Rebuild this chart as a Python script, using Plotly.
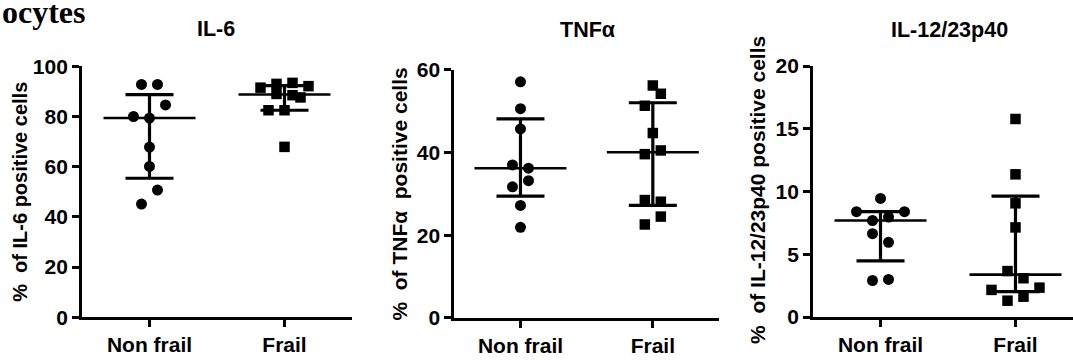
import numpy as np
import plotly.graph_objects as go

W, H = 1073, 362

groups = ["Non frail", "Frail"]

# % positive cells per donor
il6_nonfrail = [92.8, 92.8, 84.6, 80.0, 79.4, 67.8, 60.1, 50.7, 45.1]
il6_frail = [91.5, 93.0, 93.4, 92.1, 89.0, 88.5, 87.6, 82.5, 82.5, 67.9]
tnf_nonfrail = [57.1, 50.6, 45.7, 37.0, 36.2, 33.2, 31.7, 27.2, 21.9]
tnf_frail = [56.2, 54.2, 51.3, 44.7, 40.5, 39.6, 28.5, 28.1, 24.5, 22.6]
il12_nonfrail = [9.45, 8.39, 8.39, 7.96, 7.69, 6.64, 5.95, 2.99, 2.91]
il12_frail = [15.78, 11.37, 9.06, 7.14, 3.66, 3.09, 2.34, 2.16, 1.62, 1.30]

# horizontal dodge slots so that overlapping points sit side by side
il6_nonfrail_slots = [-1, 1, 2, -2, 0, 0, 0, 1, -1]
il6_frail_slots = [-3, -1, 1, 3, -1, 1, 2, -2, 0, 0]
tnf_nonfrail_slots = [0, 0, 0, -1, 1, 1, -1, 0, 0]
tnf_frail_slots = [0, 1, -1, 0, 1, -1, -1, 1, 1, -1]
il12_nonfrail_slots = [0, -3, 3, 1, -1, -1, 1, 1, -1]
il12_frail_slots = [0, 0, 0, 0, -1, 1, 3, -3, 1, -1]

FONT = "Liberation Sans"
SERIF = "Liberation Serif"
BLACK = "#000000"

SLOT_PX = 8          # dodge step in pixels
MEDIAN_HALF_PX = 46  # half length of the median bar
CAP_HALF_PX = 24     # half length of the quartile caps

panels = [
    dict(title="IL-6", ytitle="%  of IL-6 positive cells",
         data=(il6_nonfrail, il6_frail), slots=(il6_nonfrail_slots, il6_frail_slots),
         yrange=[0, 100], dtick=20, xpx=(82, 352), ypx=(58, 326), xrange=[-0.5, 1.5],
         title_xy=(216, 18), ytitle_xy=(20, 192), ytitle_size=20),
    dict(title="TNFα", ytitle="%  of TNFα  positive cells",
         data=(tnf_nonfrail, tnf_frail), slots=(tnf_nonfrail_slots, tnf_frail_slots),
         yrange=[0, 60], dtick=20, xpx=(454.3, 719), ypx=(61.7, 326.7), xrange=[-0.5, 1.5],
         title_xy=(587, 19), ytitle_xy=(400, 195), ytitle_size=21),
    dict(title="IL-12/23p40", ytitle="%  of IL-12/23p40 positive cells",
         data=(il12_nonfrail, il12_frail), slots=(il12_nonfrail_slots, il12_frail_slots),
         yrange=[0, 20], dtick=5, xpx=(813, 1073), ypx=(57.7, 325.7), xrange=[-0.5, 1.426],
         title_xy=(949, 19), ytitle_xy=(758, 190), ytitle_size=21),
]

symbols = ["circle", "square"]
msizes = [11, 10.5]

fig = go.Figure()
layout = dict(
    width=W, height=H, margin=dict(l=0, r=0, t=0, b=0),
    paper_bgcolor="white", plot_bgcolor="white", showlegend=False,
    annotations=[],
)

for i, p in enumerate(panels):
    sfx = "" if i == 0 else str(i + 1)
    xa, ya = "x" + sfx, "y" + sfx
    px_per_unit = (p["xpx"][1] - p["xpx"][0]) / (p["xrange"][1] - p["xrange"][0])
    step = SLOT_PX / px_per_unit

    for g, (vals, slots) in enumerate(zip(p["data"], p["slots"])):
        vals = np.asarray(vals, dtype=float)
        q1, med, q3 = np.percentile(vals, [25, 50, 75], method="weibull")
        xs = g + np.asarray(slots) * step
        fig.add_trace(go.Scatter(
            x=xs, y=vals, xaxis=xa, yaxis=ya, mode="markers",
            marker=dict(symbol=symbols[g], size=msizes[g], color=BLACK, line=dict(width=0)),
            hoverinfo="y", cliponaxis=False))
        # median bar with interquartile range
        fig.add_trace(go.Scatter(
            x=[g], y=[med], xaxis=xa, yaxis=ya, mode="markers",
            marker=dict(size=0.1, color=BLACK, opacity=0),
            error_y=dict(type="data", symmetric=False, array=[q3 - med], arrayminus=[med - q1],
                         color=BLACK, thickness=3.2, width=CAP_HALF_PX),
            error_x=dict(type="constant", value=MEDIAN_HALF_PX / px_per_unit,
                         color=BLACK, thickness=2.6, width=0),
            hoverinfo="skip", cliponaxis=False))

    layout["xaxis" + sfx] = dict(
        domain=[p["xpx"][0] / W, p["xpx"][1] / W], range=p["xrange"], anchor=ya,
        tickmode="array", tickvals=[0, 1], ticktext=groups,
        ticks="outside", ticklen=7, tickwidth=2.5, tickcolor=BLACK,
        showline=True, linecolor=BLACK, linewidth=2.8, showgrid=False, zeroline=False,
        tickfont=dict(family=FONT, size=21, color=BLACK, weight="bold"), fixedrange=True)
    layout["yaxis" + sfx] = dict(
        domain=[1 - p["ypx"][1] / H, 1 - p["ypx"][0] / H], range=p["yrange"], anchor=xa,
        tickmode="linear", tick0=0, dtick=p["dtick"],
        ticks="outside", ticklen=7, tickwidth=2.5, tickcolor=BLACK,
        showline=True, linecolor=BLACK, linewidth=2.8, showgrid=False, zeroline=False,
        tickfont=dict(family=FONT, size=21, color=BLACK, weight="bold"), fixedrange=True)

    tx, ty = p["title_xy"]
    layout["annotations"].append(dict(
        text=p["title"], x=tx / W, y=1 - ty / H, xref="paper", yref="paper",
        xanchor="center", yanchor="middle", showarrow=False,
        font=dict(family=FONT, size=21.5, color=BLACK, weight="bold")))
    ax, ay = p["ytitle_xy"]
    layout["annotations"].append(dict(
        text=p["ytitle"], x=ax / W, y=1 - ay / H, xref="paper", yref="paper",
        xanchor="center", yanchor="middle", textangle=-90, showarrow=False,
        font=dict(family=FONT, size=p["ytitle_size"], color=BLACK, weight="bold")))

layout["annotations"].append(dict(
    text="ocytes", x=0, y=1.06, xref="paper", yref="paper",
    xanchor="left", yanchor="top", showarrow=False,
    font=dict(family=SERIF, size=32, color=BLACK, weight="bold")))

fig.update_layout(**layout)
fig.write_html("out.html")
